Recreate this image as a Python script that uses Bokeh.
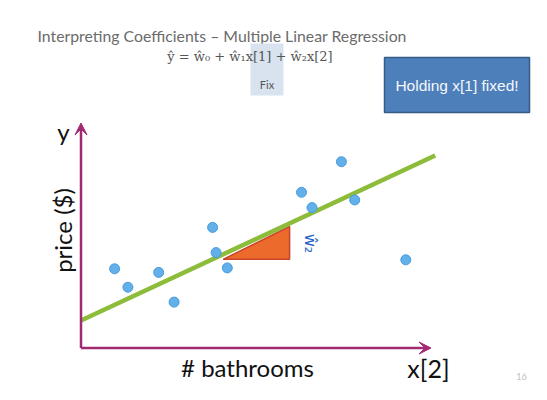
from bokeh.plotting import figure
from bokeh.models import Range1d, Arrow, VeeHead
from bokeh.core.properties import value
from bokeh.embed import file_html
from bokeh.resources import INLINE
import numpy as np

# ---- data ----
bathrooms = [0.48, 0.67, 1.11, 1.33, 1.88, 1.93, 2.09, 3.15, 3.30, 3.72, 3.91, 4.64]
price = [1.76, 1.35, 1.68, 1.02, 2.68, 2.12, 1.78, 3.46, 3.12, 4.14, 3.29, 1.96]
w0_hat = 0.61
w2_hat = 0.725
fit_x = [0.0, 5.06]
tri_x = [2.03, 2.98, 2.98]
tri_y = [1.97, 1.97, 2.70]
axis_len_x = 5.0
axis_len_y = 5.0

title = "Interpreting Coefficients \u2013 Multiple Linear Regression"
equation = "\u0177 = \u0175\u2080 + \u0175\u2081x[1] + \u0175\u2082x[2]"
fix_label = "Fix"
callout = "Holding x[1] fixed!"
x_label = "# bathrooms"
x_name = "x[2]"
y_label = "price ($)"
y_name = "y"
slope_label = "\u0175\u2082"
page_no = "16"

# ---- picture-pixel helpers for decorative placement ----
OX, OY, SX, SY = 80.5, 347.5, 70.0, 45.0
def X(px):
    return (px - OX) / SX
def Y(py):
    return (OY - py) / SY

W, H = 531, 384
p = figure(width=W, height=H, x_range=Range1d(X(0), X(W)), y_range=Range1d(Y(H), Y(0)),
           x_axis_type=None, y_axis_type=None, toolbar_location=None, output_backend="svg",
           min_border=0, outline_line_color=None)
p.grid.visible = False
p.background_fill_color = "white"
p.border_fill_color = "white"

# header
p.text(x=[X(37)], y=[Y(35)], text=[title], text_font=value("Lato"), text_font_size="15.8px",
       text_color="#6b6b6b", text_align="left", text_baseline="middle")
p.quad(left=[X(250)], right=[X(283)], top=[Y(43)], bottom=[Y(95)], fill_color="#d8e3ef", line_color=None)
p.text(x=[X(249.5)], y=[Y(56)], text=[equation], text_font=value("DejaVu Serif"), text_font_size="13px",
       text_color="#555555", text_align="center", text_baseline="middle")
p.text(x=[X(266.5)], y=[Y(84)], text=[fix_label], text_font=value("Lato"), text_font_size="11px",
       text_color="#555555", text_align="center", text_baseline="middle")

# callout box
p.quad(left=[X(384)], right=[X(529)], top=[Y(57)], bottom=[Y(112)], fill_color="#4d7fba",
       line_color="#355b88", line_width=1.5)
p.text(x=[X(456.5)], y=[Y(85)], text=[callout], text_font=value("Liberation Sans"), text_font_size="15.5px",
       text_color="#f4f8fc", text_align="center", text_baseline="middle")

# axes arrows
axis_color = "#a12a73"
p.add_layout(Arrow(end=VeeHead(size=12, fill_color=axis_color, line_color=axis_color),
                   x_start=0, y_start=0, x_end=0, y_end=axis_len_y, line_color=axis_color, line_width=2.5))
p.add_layout(Arrow(end=VeeHead(size=12, fill_color=axis_color, line_color=axis_color),
                   x_start=0, y_start=0, x_end=axis_len_x, y_end=0, line_color=axis_color, line_width=2.5))

# axis texts
p.text(x=[X(63)], y=[Y(131)], text=[y_name], text_font=value("Lato"), text_font_size="24px",
       text_color="#111111", text_align="center", text_baseline="middle")
p.text(x=[X(62)], y=[Y(230)], text=[y_label], angle=np.pi / 2, text_font=value("Lato"), text_font_size="24px",
       text_color="#111111", text_align="center", text_baseline="middle")
p.text(x=[X(247)], y=[Y(367)], text=[x_label], text_font=value("Lato"), text_font_size="24px",
       text_color="#111111", text_align="center", text_baseline="middle")
p.text(x=[X(428)], y=[Y(367)], text=[x_name], text_font=value("Lato"), text_font_size="25px",
       text_color="#111111", text_align="center", text_baseline="middle")

# slope triangle
p.patch(tri_x, tri_y, fill_color="#ec6a2c", line_color="#c8452a", line_width=1.5)

# fitted line
fx = np.array(fit_x)
p.line(fx, w0_hat + w2_hat * fx, line_color="#8cbc3a", line_width=4.5)

# data points
p.scatter(bathrooms, price, size=10, fill_color="#62b0ea", line_color="#4b9bdb", line_width=1)

# slope annotation
p.text(x=[X(310)], y=[Y(243)], text=[slope_label], angle=-np.pi / 2, text_font=value("DejaVu Sans"),
       text_font_size="16px", text_color="#1f5fc4", text_align="center", text_baseline="middle")

# page number
p.text(x=[X(521)], y=[Y(376)], text=[page_no], text_font=value("Lato"), text_font_size="9px",
       text_color="#c0c0c0", text_align="center", text_baseline="middle")

open("out.html", "w").write(file_html(p, INLINE))
